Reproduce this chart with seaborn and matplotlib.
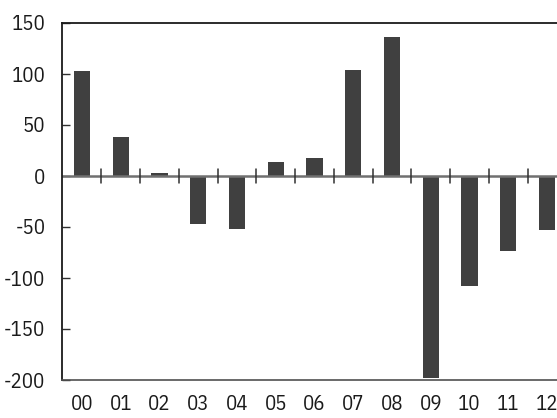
import matplotlib
matplotlib.use("Agg")
import matplotlib.pyplot as plt
import seaborn as sns
import pandas as pd

years = ["00", "01", "02", "03", "04", "05", "06", "07", "08", "09", "10", "11", "12"]
values = [102.5, 38.5, 3, -47, -52, 14, 18, 103.5, 136, -198, -108, -73.5, -53]
y_ticks = [150, 100, 50, 0, -50, -100, -150, -200]

sns.set_theme(style="white")
plt.rcParams["font.family"] = ["IBM Plex Sans Condensed", "DejaVu Sans"]

W, H = 557, 418
fig = plt.figure(figsize=(W / 100, H / 100), dpi=100)
ax = fig.add_axes([62 / W, 38 / H, 495 / W, 357 / H])

df = pd.DataFrame({"year": years, "value": values})
sns.barplot(data=df, x="year", y="value", color="#404040", saturation=1,
            width=0.42, linewidth=0, ax=ax, order=years)

ax.set_xlim(-0.516, 12.26)
ax.set_ylim(-200, 150)
ax.set_yticks(y_ticks)
ax.set_yticklabels([str(t) for t in y_ticks])
ax.set_xlabel("")
ax.set_ylabel("")

# zero line with separators between categories
ax.axhline(0, color="#707070", lw=1.8, zorder=1)
for i in range(len(years) - 1):
    ax.plot([i + 0.5, i + 0.5], [-6.5, 6.5], color="#303030", lw=1.1, zorder=3)

for side in ["top", "left"]:
    ax.spines[side].set_color("#1a1a1a")
    ax.spines[side].set_linewidth(1.3)
ax.spines["bottom"].set_color("#505050")
ax.spines["bottom"].set_linewidth(1.2)
ax.spines["right"].set_visible(False)

ax.tick_params(axis="y", direction="in", length=6, width=1, color="#303030",
               labelsize=15, pad=12, left=True)
ax.tick_params(axis="x", length=0, labelsize=15, pad=11)
for lab in ax.get_xticklabels() + ax.get_yticklabels():
    lab.set_color("#1a1a1a")

fig.savefig("out.png", dpi=100)
